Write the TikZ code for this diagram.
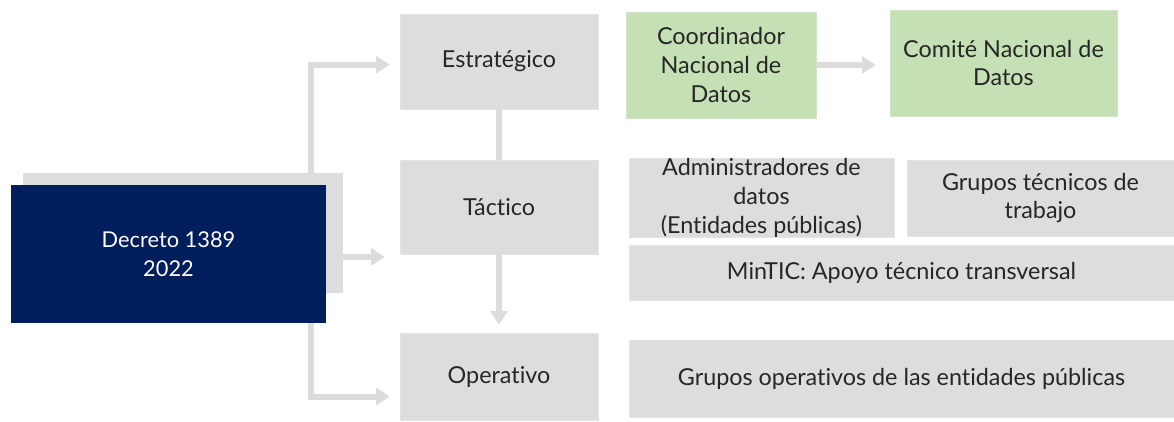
\documentclass[tikz,border=0pt]{standalone}
\usepackage{fontspec}
\setmainfont{Lato}[Ligatures=NoCommon]
\usetikzlibrary{arrows.meta,backgrounds}
\definecolor{boxgray}{HTML}{DDDDDD}
\definecolor{linegray}{HTML}{DCDCDC}
\definecolor{navy}{HTML}{011E5C}
\definecolor{leafgreen}{HTML}{C5E0B4}
\tikzset{
  level/.style={rectangle, fill=boxgray, draw=boxgray!80!white, align=center, text=black!85, font=\fontsize{16.6}{20.5}\selectfont},
  unit/.style={level},
  green/.style={level, fill=leafgreen, draw=leafgreen!80!white},
  conn/.style={draw=linegray, line width=0.15cm},
  tip/.style={conn, -{Triangle[width=0.42cm,length=0.34cm]}}
}

\begin{document}
\begin{tikzpicture}[x=0.025cm,y=-0.025cm]
        \useasboundingbox (0,0) rectangle (1174,421);
        % decreto
        \node[fill=boxgray, minimum width=8cm, minimum height=3cm, inner sep=0pt] (shadow) at (183,233) {};
        \node[fill=navy, text=white, align=center, minimum width=7.875cm, minimum height=3.45cm, font=\fontsize{15.5}{20.5}\selectfont] (dec) at (168.5,254) {Decreto 1389\\2022};
        \coordinate (trunk) at (311,0);

        % levels
        \node[level, minimum width=4.95cm, minimum height=2.375cm] (estr) at (499,61.5) {Estratégico};
        \node[level, minimum width=4.95cm, minimum height=2.35cm] (tact) at (499,207) {Táctico};
        \node[level, minimum width=4.95cm, minimum height=2.175cm] (oper) at (499,376.5) {Operativo};
        \coordinate (midtip) at (400,257);

        % row1
        \node[green, minimum width=4.75cm, minimum height=2.65cm] (coord) at (721,65) {Coordinador\\Nacional de\\Datos};
        \node[green, minimum width=5.675cm, minimum height=2.65cm] (comite) at (1003.5,63) {Comité Nacional de\\Datos};
        % row2
        \node[unit, minimum width=6.625cm, minimum height=1.9cm, inner sep=0pt] (admin) at (761.5,198) {Administradores de\\datos\\(Entidades públicas)};
        \node[unit, minimum width=6.675cm, minimum height=1.9cm] (tecnicos) at (1040.5,198) {Grupos técnicos de\\trabajo};
        \node[unit, minimum width=13.625cm, minimum height=1.375cm] (mintic) at (901.5,272.5) {MinTIC: Apoyo técnico transversal};
        % row3
        \node[unit, minimum width=13.625cm, minimum height=1.925cm] (operativos) at (901.5,378.5) {Grupos operativos de las entidades públicas};

        % connectors
        \begin{pgfonlayer}{background}
        \draw[tip, shorten >=0.25cm] (shadow.north -| trunk) |- ([yshift=-0.08cm]estr.west);
        \draw[tip, shorten >=0.38cm] (shadow.east |- midtip) -- (midtip);
        \draw[tip, shorten >=0.25cm] (dec.south -| trunk) |- ([yshift=-0.5cm]oper.west);
        \end{pgfonlayer}
        \draw[conn] (estr.south) -- (tact.north);
        \draw[tip, shorten >=0.2cm] (tact.south) -- (oper.north);
        \draw[tip, shorten >=0.35cm] (coord.east) -- (coord.east -| comite.west);
\end{tikzpicture}
\end{document}
